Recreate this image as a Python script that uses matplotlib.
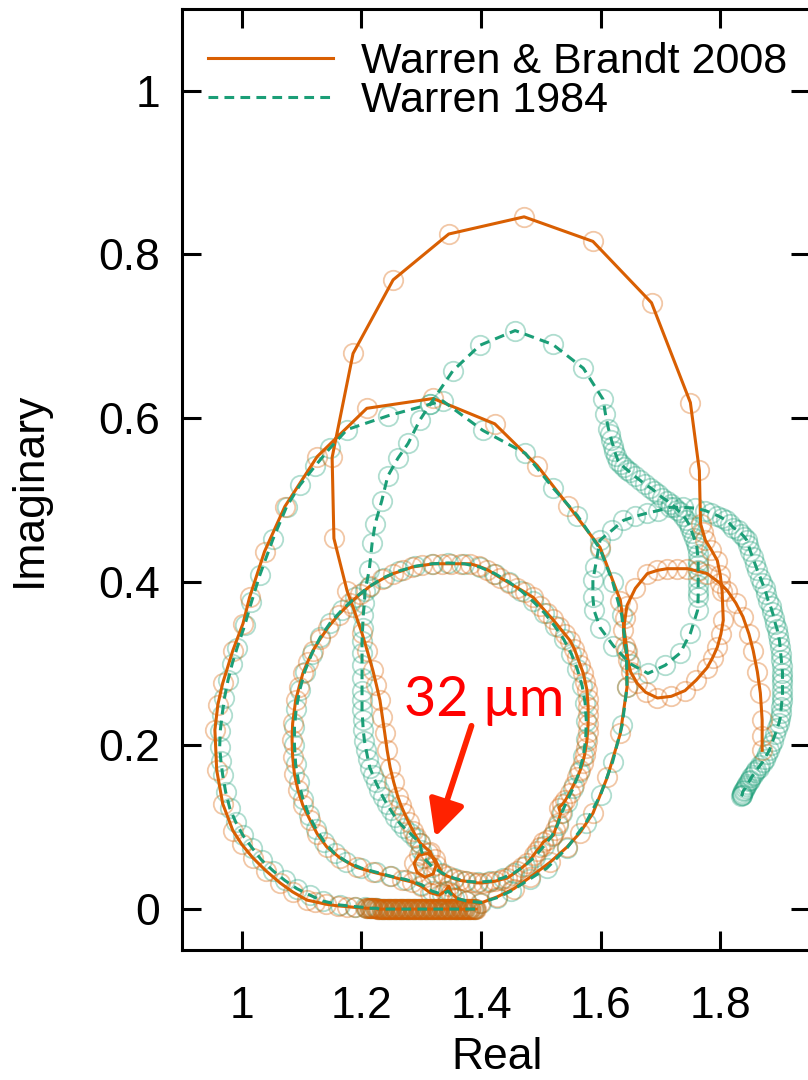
import matplotlib

matplotlib.use("Agg")
import matplotlib.pyplot as plt

# Ice refractive index m = n + ik, each band traced in wavelength order.
# Warren & Brandt (2008)
wb08_vis_n = [1.392, 1.390, 1.388, 1.386, 1.384, 1.382, 1.380, 1.378, 1.376, 1.374, 1.372, 1.370,
              1.368, 1.366, 1.364, 1.362, 1.360, 1.358, 1.356, 1.354, 1.352, 1.350, 1.348, 1.346,
              1.344, 1.342, 1.340, 1.338, 1.336, 1.334, 1.332, 1.330, 1.328, 1.326, 1.324, 1.322,
              1.320, 1.318, 1.316, 1.314, 1.312, 1.310, 1.308, 1.306, 1.304, 1.302, 1.300, 1.298,
              1.296, 1.294, 1.292, 1.290, 1.288, 1.286, 1.284, 1.282, 1.280, 1.278, 1.276, 1.274,
              1.272, 1.270, 1.268, 1.266, 1.264, 1.262, 1.260, 1.258, 1.256, 1.254, 1.252, 1.250,
              1.248, 1.246, 1.244, 1.242, 1.240, 1.238, 1.236, 1.234, 1.232, 1.230, 1.228, 1.226,
              1.224, 1.222, 1.220, 1.218, 1.216, 1.214, 1.212, 1.210, 1.208]
wb08_vis_k = [0.000, 0.000, 0.000, 0.000, 0.000, 0.000, 0.000, 0.000, 0.000, 0.000, 0.000, 0.000,
              0.000, 0.000, 0.000, 0.000, 0.000, 0.000, 0.000, 0.000, 0.000, 0.000, 0.000, 0.000,
              0.000, 0.000, 0.000, 0.000, 0.000, 0.000, 0.000, 0.000, 0.000, 0.000, 0.000, 0.000,
              0.000, 0.000, 0.000, 0.000, 0.000, 0.000, 0.000, 0.000, 0.000, 0.000, 0.000, 0.000,
              0.000, 0.000, 0.000, 0.000, 0.000, 0.000, 0.000, 0.000, 0.000, 0.000, 0.000, 0.000,
              0.000, 0.000, 0.000, 0.000, 0.000, 0.000, 0.000, 0.000, 0.000, 0.000, 0.000, 0.000,
              0.000, 0.000, 0.000, 0.000, 0.000, 0.000, 0.000, 0.000, 0.000, 0.000, 0.000, 0.000,
              0.001, 0.001, 0.001, 0.001, 0.001, 0.001, 0.001, 0.001, 0.001]

wb08_b3_n = [1.190, 1.176, 1.160, 1.140, 1.122, 1.109, 1.085, 1.064, 1.040, 1.018, 1.000, 0.985,
             0.968, 0.958, 0.955, 0.960, 0.968, 0.985, 1.002, 1.013, 1.038, 1.072, 1.126, 1.209,
             1.320, 1.423, 1.494, 1.546, 1.599, 1.633, 1.644, 1.644, 1.633, 1.611, 1.587, 1.565,
             1.544, 1.515, 1.482, 1.455, 1.427, 1.398]
wb08_b3_k = [0.002, 0.003, 0.004, 0.006, 0.009, 0.011, 0.021, 0.032, 0.047, 0.063, 0.079, 0.096,
             0.129, 0.170, 0.219, 0.250, 0.276, 0.316, 0.349, 0.381, 0.437, 0.492, 0.553, 0.612,
             0.624, 0.593, 0.542, 0.493, 0.442, 0.377, 0.316, 0.271, 0.215, 0.161, 0.117, 0.093,
             0.076, 0.057, 0.039, 0.025, 0.015, 0.007]

wb08_b12_n = [1.375, 1.360, 1.350, 1.346, 1.340, 1.330, 1.315, 1.300, 1.285,
              1.268, 1.248, 1.220, 1.192, 1.165, 1.142, 1.126, 1.114, 1.102, 1.094, 1.088, 1.085,
              1.084, 1.085, 1.090, 1.096, 1.102, 1.110, 1.119, 1.131, 1.144, 1.162, 1.181, 1.198,
              1.215, 1.234, 1.253, 1.270, 1.285, 1.302, 1.320, 1.335, 1.350, 1.366, 1.382, 1.396,
              1.410, 1.421, 1.432, 1.446, 1.460, 1.474, 1.487, 1.499, 1.510, 1.520, 1.530, 1.540,
              1.549, 1.556, 1.561, 1.566, 1.571, 1.574, 1.577, 1.578, 1.579, 1.579, 1.579, 1.578,
              1.577, 1.575, 1.573, 1.570, 1.566, 1.561, 1.555, 1.548, 1.541, 1.536, 1.530, 1.533,
              1.528, 1.524, 1.521, 1.510, 1.504, 1.499, 1.493, 1.488, 1.477, 1.469, 1.460, 1.452,
              1.444, 1.433, 1.423, 1.413, 1.403, 1.394, 1.385, 1.375, 1.365, 1.355, 1.345, 1.335,
              1.323, 1.311, 1.296, 1.288, 1.293, 1.306, 1.320, 1.325, 1.315]
wb08_b12_k = [0.010, 0.013, 0.020, 0.028, 0.022, 0.017, 0.020, 0.028, 0.033,
              0.036, 0.040, 0.045, 0.051, 0.062, 0.076, 0.092, 0.109, 0.127, 0.145, 0.165, 0.186,
              0.207, 0.227, 0.255, 0.272, 0.288, 0.302, 0.316, 0.330, 0.344, 0.360, 0.374, 0.385,
              0.395, 0.403, 0.410, 0.414, 0.418, 0.420, 0.422, 0.422, 0.422, 0.422, 0.422, 0.419,
              0.415, 0.410, 0.405, 0.399, 0.393, 0.387, 0.381, 0.371, 0.362, 0.354, 0.345, 0.336,
              0.328, 0.318, 0.308, 0.298, 0.288, 0.278, 0.268, 0.257, 0.247, 0.237, 0.226, 0.216,
              0.206, 0.197, 0.188, 0.179, 0.170, 0.161, 0.152, 0.142, 0.133, 0.128, 0.124, 0.117,
              0.105, 0.097, 0.090, 0.085, 0.082, 0.076, 0.071, 0.066, 0.056, 0.051, 0.046, 0.042,
              0.038, 0.036, 0.034, 0.033, 0.032, 0.032, 0.033, 0.034, 0.035, 0.037, 0.040, 0.043,
              0.061, 0.068, 0.066, 0.056, 0.045, 0.039, 0.043, 0.054, 0.070]

wb08_b45_n = [1.298, 1.292, 1.286, 1.279, 1.272, 1.266, 1.261, 1.254, 1.248, 1.243, 1.239, 1.235,
              1.231, 1.225, 1.219, 1.210, 1.201, 1.186, 1.176, 1.154, 1.151, 1.186, 1.253, 1.346,
              1.472, 1.587, 1.685, 1.750, 1.765, 1.767, 1.771, 1.775, 1.785, 1.795, 1.800, 1.803,
              1.805, 1.801, 1.795, 1.787, 1.778, 1.760, 1.741, 1.718, 1.695, 1.675, 1.661, 1.650,
              1.646, 1.640, 1.638, 1.641, 1.644, 1.658, 1.678, 1.695, 1.711, 1.728, 1.745, 1.762,
              1.778, 1.800, 1.812, 1.826, 1.838, 1.848, 1.855, 1.862, 1.867, 1.870, 1.870, 1.870]
wb08_b45_k = [0.081, 0.088, 0.096, 0.106, 0.117, 0.127, 0.137, 0.155, 0.173, 0.194, 0.215, 0.235,
              0.255, 0.274, 0.292, 0.315, 0.337, 0.369, 0.389, 0.453, 0.552, 0.679, 0.769, 0.825,
              0.846, 0.816, 0.741, 0.619, 0.536, 0.471, 0.461, 0.451, 0.439, 0.426, 0.408, 0.389,
              0.353, 0.336, 0.320, 0.307, 0.295, 0.280, 0.267, 0.260, 0.258, 0.265, 0.276, 0.290,
              0.304, 0.322, 0.341, 0.356, 0.371, 0.392, 0.410, 0.414, 0.416, 0.416, 0.416, 0.413,
              0.410, 0.398, 0.389, 0.374, 0.357, 0.336, 0.316, 0.290, 0.264, 0.231, 0.212, 0.194]

# Warren (1984)
w84_vis_n = [1.390, 1.386, 1.382, 1.378, 1.374, 1.370, 1.366, 1.362, 1.358, 1.354, 1.350, 1.346,
             1.342, 1.338, 1.334, 1.330, 1.326, 1.322, 1.318, 1.314, 1.310, 1.306, 1.302, 1.298,
             1.294, 1.290, 1.286, 1.282, 1.278, 1.274, 1.270, 1.266, 1.262, 1.258, 1.254, 1.250,
             1.246, 1.242, 1.238, 1.234, 1.230, 1.226, 1.222, 1.218, 1.214, 1.210, 1.206]
w84_vis_k = [0.000, 0.000, 0.000, 0.000, 0.000, 0.000, 0.000, 0.000, 0.000, 0.000, 0.000, 0.000,
             0.000, 0.000, 0.000, 0.000, 0.000, 0.000, 0.000, 0.000, 0.000, 0.000, 0.000, 0.000,
             0.000, 0.000, 0.000, 0.000, 0.000, 0.000, 0.000, 0.000, 0.000, 0.000, 0.000, 0.000,
             0.000, 0.000, 0.000, 0.000, 0.000, 0.001, 0.001, 0.001, 0.001, 0.001, 0.002]

w84_b3_n = [1.190, 1.164, 1.135, 1.114, 1.092, 1.072, 1.052, 1.033, 1.017, 1.002, 0.990, 0.980,
            0.973, 0.968, 0.965, 0.963, 0.964, 0.967, 0.971, 0.977, 0.984, 0.992, 1.005, 1.016,
            1.030, 1.052, 1.075, 1.097, 1.122, 1.147, 1.176, 1.245, 1.315, 1.336, 1.403, 1.474,
            1.520, 1.561, 1.599, 1.620, 1.635, 1.643, 1.644, 1.636, 1.620, 1.600, 1.575, 1.544,
            1.510, 1.482, 1.450, 1.427, 1.400, 1.375]
w84_b3_k = [0.003, 0.005, 0.010, 0.017, 0.025, 0.035, 0.047, 0.060, 0.075, 0.090, 0.106, 0.123,
            0.143, 0.164, 0.181, 0.198, 0.218, 0.237, 0.258, 0.280, 0.300, 0.319, 0.347, 0.375,
            0.408, 0.452, 0.492, 0.518, 0.541, 0.563, 0.586, 0.603, 0.617, 0.621, 0.585, 0.557,
            0.515, 0.481, 0.440, 0.400, 0.360, 0.316, 0.271, 0.225, 0.180, 0.140, 0.105, 0.075,
            0.050, 0.037, 0.022, 0.014, 0.008, 0.010]

w84_b12_n = [1.355, 1.345, 1.335, 1.318, 1.300,
             1.275, 1.250, 1.225, 1.200, 1.175, 1.155, 1.138, 1.124, 1.112, 1.102, 1.095, 1.090,
             1.088, 1.088, 1.091, 1.097, 1.105, 1.117, 1.131, 1.148, 1.168, 1.190, 1.213, 1.237,
             1.262, 1.290, 1.318, 1.345, 1.372, 1.398, 1.423, 1.446, 1.467, 1.487, 1.506, 1.523,
             1.538, 1.551, 1.561, 1.569, 1.574, 1.576, 1.575, 1.571, 1.564, 1.554, 1.543, 1.535,
             1.528, 1.518, 1.505, 1.490, 1.473, 1.455, 1.436, 1.415, 1.395, 1.374, 1.354, 1.335,
             1.318, 1.305, 1.300]
w84_b12_k = [0.014, 0.022, 0.018, 0.022, 0.030,
             0.036, 0.040, 0.045, 0.050, 0.058, 0.068, 0.082, 0.098, 0.115, 0.135, 0.155, 0.177,
             0.200, 0.222, 0.245, 0.268, 0.290, 0.312, 0.332, 0.350, 0.366, 0.381, 0.394, 0.405,
             0.413, 0.419, 0.422, 0.423, 0.422, 0.418, 0.410, 0.400, 0.389, 0.376, 0.362, 0.346,
             0.330, 0.312, 0.293, 0.273, 0.252, 0.230, 0.208, 0.187, 0.167, 0.148, 0.131, 0.118,
             0.103, 0.089, 0.077, 0.064, 0.053, 0.044, 0.038, 0.034, 0.033, 0.034, 0.038, 0.044,
             0.052, 0.062, 0.072]

w84_b45_n = [1.298, 1.289, 1.281, 1.272, 1.264, 1.256, 1.249, 1.242, 1.236, 1.230, 1.224, 1.219,
             1.214, 1.211, 1.208, 1.205, 1.203, 1.202, 1.201, 1.201, 1.201, 1.201, 1.201, 1.201,
             1.201, 1.202, 1.203, 1.205, 1.206, 1.213, 1.218, 1.223, 1.234, 1.244, 1.261, 1.278,
             1.298, 1.315, 1.353, 1.398, 1.457, 1.520, 1.571, 1.604, 1.608, 1.613, 1.616, 1.618,
             1.621, 1.623, 1.626, 1.629, 1.634, 1.639, 1.644, 1.649, 1.657, 1.666, 1.674, 1.683,
             1.690, 1.696, 1.703, 1.711, 1.717, 1.723, 1.728, 1.733, 1.738, 1.743, 1.747, 1.750,
             1.753, 1.756, 1.759, 1.761, 1.762, 1.763, 1.763, 1.763, 1.763, 1.763, 1.763, 1.763,
             1.762, 1.750, 1.733, 1.708, 1.679, 1.649, 1.621, 1.599, 1.589, 1.587, 1.587, 1.591,
             1.599, 1.619, 1.638, 1.658, 1.678, 1.696, 1.716, 1.738, 1.758, 1.775, 1.785, 1.795,
             1.803, 1.810, 1.816, 1.822, 1.829, 1.835, 1.840, 1.844, 1.847, 1.850, 1.854, 1.858,
             1.862, 1.867, 1.870, 1.874, 1.877, 1.880, 1.884, 1.887, 1.890, 1.892, 1.895, 1.897,
             1.899, 1.900, 1.901, 1.902, 1.903, 1.904, 1.904, 1.904, 1.904, 1.904, 1.903, 1.902,
             1.901, 1.900, 1.898, 1.895, 1.892, 1.888, 1.885, 1.882, 1.878, 1.874, 1.871, 1.867,
             1.864, 1.860, 1.858, 1.855, 1.852, 1.850, 1.848, 1.845, 1.843, 1.842, 1.840, 1.838,
             1.837, 1.837, 1.836, 1.835]
w84_b45_k = [0.081, 0.087, 0.093, 0.099, 0.105, 0.113, 0.121, 0.129, 0.137, 0.146, 0.155, 0.164,
             0.173, 0.183, 0.194, 0.206, 0.219, 0.231, 0.243, 0.255, 0.267, 0.282, 0.298, 0.313,
             0.328, 0.343, 0.359, 0.374, 0.389, 0.414, 0.448, 0.471, 0.499, 0.529, 0.551, 0.569,
             0.598, 0.617, 0.658, 0.689, 0.707, 0.690, 0.661, 0.623, 0.605, 0.587, 0.580, 0.573,
             0.566, 0.560, 0.554, 0.548, 0.544, 0.540, 0.537, 0.534, 0.529, 0.524, 0.519, 0.515,
             0.511, 0.507, 0.503, 0.499, 0.495, 0.492, 0.488, 0.485, 0.481, 0.476, 0.471, 0.466,
             0.460, 0.454, 0.448, 0.442, 0.434, 0.426, 0.420, 0.414, 0.405, 0.396, 0.388, 0.381,
             0.365, 0.337, 0.313, 0.298, 0.288, 0.300, 0.322, 0.344, 0.365, 0.381, 0.402, 0.418,
             0.451, 0.463, 0.475, 0.480, 0.484, 0.487, 0.491, 0.491, 0.490, 0.487, 0.484, 0.481,
             0.478, 0.475, 0.471, 0.466, 0.463, 0.459, 0.455, 0.451, 0.445, 0.438, 0.430, 0.422,
             0.414, 0.405, 0.399, 0.392, 0.385, 0.377, 0.370, 0.363, 0.356, 0.349, 0.342, 0.335,
             0.328, 0.320, 0.312, 0.304, 0.297, 0.289, 0.282, 0.276, 0.268, 0.261, 0.254, 0.247,
             0.240, 0.233, 0.227, 0.221, 0.214, 0.206, 0.200, 0.194, 0.189, 0.184, 0.180, 0.176,
             0.173, 0.170, 0.167, 0.164, 0.161, 0.158, 0.156, 0.153, 0.150, 0.148, 0.146, 0.144,
             0.142, 0.140, 0.139, 0.138]

wb08_n = wb08_vis_n + wb08_b3_n + wb08_b12_n + wb08_b45_n
wb08_k = wb08_vis_k + wb08_b3_k + wb08_b12_k + wb08_b45_k
w84_n = w84_vis_n + w84_b3_n + w84_b12_n + w84_b45_n
w84_k = w84_vis_k + w84_b3_k + w84_b12_k + w84_b45_k

ORANGE = "#D95F02"
GREEN = "#1B9E77"

plt.rcParams.update({
    "font.family": ["Liberation Sans", "DejaVu Sans"],
    "font.size": 32,
    "lines.scale_dashes": False,
})

fig = plt.figure(figsize=(8.08, 10.8), dpi=100)
ax = fig.add_axes([182 / 808, 130 / 1080, 628 / 808, 941 / 1080])

# open circles for every sample, under the lines
ax.plot(w84_n, w84_k, ls="none", marker="o", ms=14, mfc="none",
        mec=(27 / 255, 158 / 255, 119 / 255, 0.35), mew=1.3)
ax.plot(wb08_n, wb08_k, ls="none", marker="o", ms=14, mfc="none",
        mec=(217 / 255, 95 / 255, 2 / 255, 0.35), mew=1.3)

ax.plot(wb08_n, wb08_k, color=ORANGE, lw=2.2, label="Warren & Brandt 2008")
ax.plot(w84_n, w84_k, color=GREEN, lw=2.2, dashes=(7, 4.5), label="Warren 1984")

ax.set_xlim(0.9, 1.95)
ax.set_ylim(-0.05, 1.1)
ax.set_xticks([1, 1.2, 1.4, 1.6, 1.8])
ax.set_xticklabels(["1", "1.2", "1.4", "1.6", "1.8"])
ax.set_yticks([0, 0.2, 0.4, 0.6, 0.8, 1])
ax.set_yticklabels(["0", "0.2", "0.4", "0.6", "0.8", "1"])
ax.tick_params(direction="in", top=True, right=True, length=13.5, width=2.2)
ax.tick_params(axis="x", pad=26)
ax.tick_params(axis="y", pad=16)
for sp in ax.spines.values():
    sp.set_linewidth(2.2)

ax.set_xlabel("Real")
ax.xaxis.set_label_coords(0.502, -0.092)
ax.set_ylabel("Imaginary")
ax.yaxis.set_label_coords(-0.21, 0.49)

ax.legend(loc="upper left", bbox_to_anchor=(0.041, 0.965), frameon=False,
          borderaxespad=0, borderpad=0, handlelength=2.9, handletextpad=0.65,
          labelspacing=-0.02, fontsize=31)

ax.annotate("", xy=(1.323, 0.088), xytext=(1.384, 0.224),
            arrowprops=dict(arrowstyle="-|>,head_length=1.1,head_width=0.55",
                            color="#FF2200", lw=4.2, shrinkA=0, shrinkB=0,
                            mutation_scale=20))
ax.text(1.405, 0.236, "32 µm", color="#FF0000", fontsize=40,
        family=["Lato", "DejaVu Sans"], ha="center", va="baseline")

fig.savefig("out.png", dpi=100)
